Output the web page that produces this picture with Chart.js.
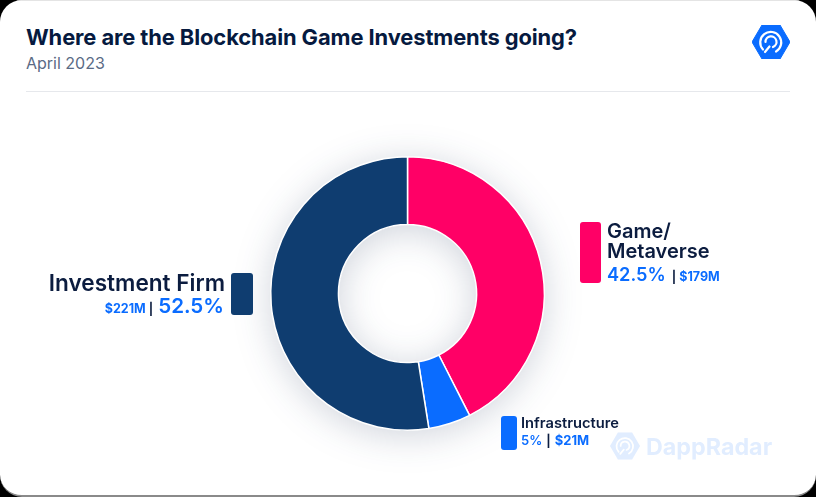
<!DOCTYPE html>
<html><head><meta charset="utf-8">
<script src="https://cdn.jsdelivr.net/npm/chart.js@4"></script>
<style>
html,body{margin:0;padding:0;background:#000;width:816px;height:497px;overflow:hidden}
#card{position:absolute;left:0;top:0;width:816px;height:495px;background:#fff;border-radius:22px;overflow:hidden;border-bottom:2px solid #8a8a8a;box-sizing:content-box;font-family:Inter,sans-serif}
#top{position:absolute;left:0;top:0;width:816px;height:1px;background:#e4e4e4}
#wrap{position:absolute;left:0;top:0;width:816px;height:497px;filter:drop-shadow(0 5px 18px rgba(20,40,80,.2))}
.t{position:absolute;white-space:nowrap}
#title{left:26px;top:24px;font-size:21.9px;font-weight:700;color:#061a3f;letter-spacing:-.1px}
#sub{left:26px;top:53px;font-size:16px;color:#5a6a85}
#rule{position:absolute;left:26px;top:91px;width:764px;height:1px;background:#e6e8ec}
.sw{position:absolute;border-radius:3px}
.name{color:#0b1c3f;font-weight:600}
.pct{color:#0a6cff;font-weight:600}
.amt{color:#0a6cff;font-weight:700}
.sep{color:#0b1c3f;font-weight:700}
</style></head><body>
<div id="card">
<div id="top"></div>
<div class="t" id="title"></div>
<div class="t" id="sub"></div>
<div id="rule"></div>
<div id="wrap"><canvas id="c" width="816" height="497"></canvas></div>
<svg style="position:absolute;left:752px;top:25px" width="38" height="34" viewBox="0 0 38 34">
<polygon points="10,0 28,0 38,17 28,34 10,34 0,17" fill="#0a6cff" stroke="#0a6cff" stroke-linejoin="round"/>
<g fill="none" stroke="#fff" stroke-width="2.2" stroke-linecap="round"><path d="M11 24.5A10.5 10.5 0 1 1 24 26.5"/><path d="M13.5 17A5.5 5.5 0 1 1 21 22"/><path d="M13 27L17.5 21.5"/></g>
</svg>
<svg style="position:absolute;left:610px;top:432px" width="30" height="28" viewBox="0 0 38 34" opacity=".12">
<polygon points="10,0 28,0 38,17 28,34 10,34 0,17" fill="#0a6cff"/>
<g fill="none" stroke="#fff" stroke-width="2.2" stroke-linecap="round"><path d="M11 24.5A10.5 10.5 0 1 1 24 26.5"/><path d="M13.5 17A5.5 5.5 0 1 1 21 22"/><path d="M13 27L17.5 21.5"/></g>
</svg>
<div class="t" id="wm" style="left:646px;top:432px;font-size:23.3px;font-weight:700;color:#0a6cff;opacity:.12">DappRadar</div>

<div class="sw" style="left:580px;top:222px;width:21px;height:61px" id="s0"></div>
<div class="t name" style="left:607px;top:221px;font-size:20px;line-height:20px" id="n0"></div>
<div class="t" style="left:607px;top:263px"><span class="pct" style="font-size:18.2px" id="p0"></span><span class="sep" style="font-size:12px;margin:0 3px 0 6px">|</span><span class="amt" style="font-size:12.5px" id="a0"></span></div>

<div class="sw" style="left:231px;top:273px;width:22px;height:42px" id="s2"></div>
<div class="t name" style="right:591px;top:269px;font-size:22.6px" id="n2"></div>
<div class="t" style="right:592px;top:293px"><span class="amt" style="font-size:12.5px" id="a2"></span><span class="sep" style="font-size:12px;margin:0 5px 0 3px">|</span><span class="pct" style="font-size:20.6px" id="p2"></span></div>

<div class="sw" style="left:501px;top:416px;width:16px;height:34px" id="s1"></div>
<div class="t name" style="left:521px;top:414px;font-size:14.7px" id="n1"></div>
<div class="t" style="left:521px;top:429px"><span class="pct" style="font-size:13px" id="p1"></span><span class="sep" style="font-size:12px;margin:0 4px">|</span><span class="amt" style="font-size:13px" id="a1"></span></div>
</div>
<script>
const titleText = "Where are the Blockchain Game Investments going?";
const subtitleText = "April 2023";
const categories = ["Game/\nMetaverse", "Infrastructure", "Investment Firm"];
const shares = [42.5, 5, 52.5];
const shareLabels = ["42.5%", "5%", "52.5%"];
const amounts = ["$179M", "$21M", "$221M"];
const colors = ["#ff0066", "#0a6cff", "#0f3d70"];

document.getElementById('title').textContent = titleText;
document.getElementById('sub').textContent = subtitleText;
categories.forEach((c, i) => {
  const n = document.getElementById('n' + i);
  n.innerHTML = c.split("\n").join("<br>");
  document.getElementById('p' + i).textContent = shareLabels[i];
  document.getElementById('a' + i).textContent = amounts[i];
  document.getElementById('s' + i).style.background = colors[i];
});
new Chart(document.getElementById('c'), {
  type: 'doughnut',
  data: { labels: categories, datasets: [{ data: shares, backgroundColor: colors, borderColor: '#fff', borderWidth: 1.5 }] },
  options: {
    responsive: false, animation: false, cutout: '50.5%',
    layout: { padding: { left: 270, right: 271, top: 156, bottom: 66 } },
    plugins: { legend: { display: false }, tooltip: { enabled: false } }
  }
});
</script>
</body></html>
